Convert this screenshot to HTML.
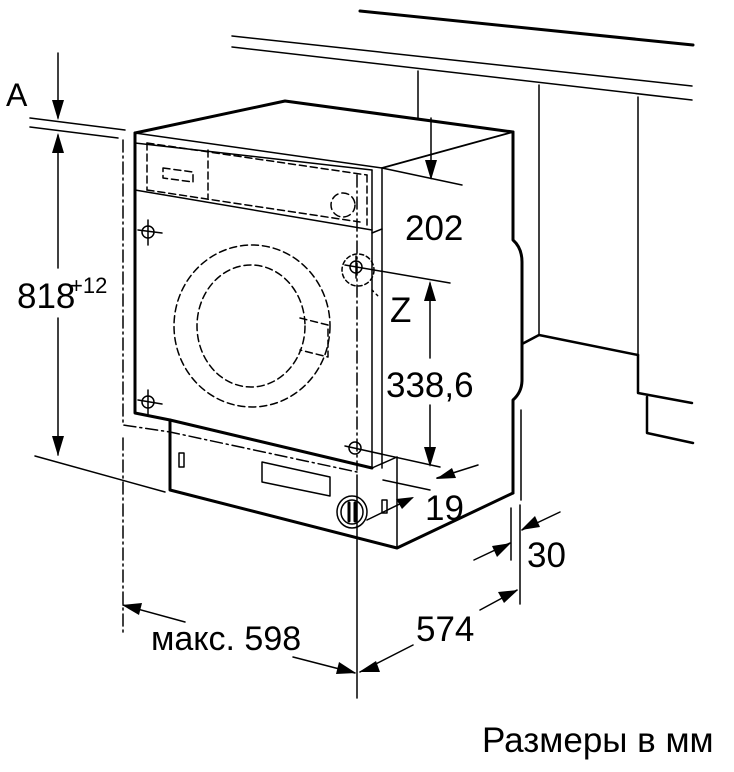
<!DOCTYPE html>
<html><head><meta charset="utf-8"><style>
html,body{margin:0;padding:0;background:#fff;}
svg{display:block;}
text{font-family:"Liberation Sans",sans-serif;fill:#000;}
</style></head><body>
<svg width="734" height="772" viewBox="0 0 734 772" xmlns="http://www.w3.org/2000/svg">
<g stroke="#000" fill="none" stroke-linecap="round" stroke-linejoin="round">
<line x1="360" y1="11" x2="693" y2="45" stroke-width="3"/>
<line x1="232" y1="36" x2="692" y2="86" stroke-width="1.5"/>
<line x1="232" y1="47" x2="692" y2="100" stroke-width="1.5"/>
<line x1="418" y1="71" x2="418" y2="118" stroke-width="1.5"/>
<line x1="539" y1="85" x2="539" y2="335" stroke-width="1.5"/>
<polyline points="522,344 539,335 638,355" stroke-width="2.5"/>
<line x1="638" y1="97" x2="638" y2="355" stroke-width="1.5"/>
<polyline points="638,355 638,393 692,403" stroke-width="2.5"/>
<polyline points="647,397 647,433 693,443" stroke-width="2.5"/>
<polyline points="135,133 285,101 513,132" stroke-width="3"/>
<line x1="513" y1="132" x2="382" y2="168" stroke-width="1.8"/>
<line x1="135" y1="143" x2="372" y2="170" stroke-width="1.5"/>
<line x1="135" y1="133" x2="382" y2="168" stroke-width="1.5"/>
<path d="M513,132 L513,240 Q522,248 522,262 L522,380 Q522,392 513,400 L513,493" stroke-width="3"/>
<line x1="521" y1="410" x2="521" y2="500" stroke-width="1.5"/>
<polyline points="135,133 135,413 170,420" stroke-width="3"/>
<line x1="135" y1="190" x2="372" y2="230" stroke-width="1.5"/>
<line x1="372" y1="170" x2="372" y2="468" stroke-width="1.5"/>
<line x1="382" y1="168" x2="382" y2="468" stroke-width="1.5"/>
<line x1="372" y1="233" x2="382" y2="229" stroke-width="1.5"/>
<line x1="170" y1="420" x2="372" y2="468" stroke-width="3"/>
<polyline points="372,468 397,457" stroke-width="1.5"/>
<polyline points="170,420 170,490 397,548 513,493" stroke-width="3"/>
<line x1="397" y1="457" x2="397" y2="548" stroke-width="1.5"/>
<g stroke-dasharray="7,4" stroke-width="1.5">
<line x1="147" y1="143" x2="367" y2="175"/>
<line x1="147" y1="143" x2="147" y2="190"/>
<line x1="147" y1="190" x2="360" y2="222"/>
<line x1="208" y1="150" x2="208" y2="198"/>
<line x1="367" y1="175" x2="367" y2="225"/>
<polygon points="163,168 193,172 193,182 163,178"/>
<circle cx="343" cy="205" r="12"/>
<ellipse cx="252" cy="326" rx="78" ry="81"/>
<ellipse cx="251" cy="326" rx="54" ry="61"/>
<polyline points="300,318 328,325 328,357 300,350"/>
</g>
<circle cx="358" cy="270" r="16" stroke-width="1.5" stroke-dasharray="4,3"/>
<g stroke-dasharray="12,4,2,4" stroke-width="1.5">
<polyline points="123,140 123,425 170,432 357,472"/>
<line x1="357" y1="175" x2="357" y2="470"/>
<line x1="123" y1="438" x2="123" y2="636"/>
</g>
<g stroke-width="1.5">
<circle cx="148" cy="232" r="6"/><line x1="138" y1="230" x2="162" y2="233"/><line x1="148" y1="220" x2="148" y2="245"/>
<circle cx="148" cy="402" r="6"/><line x1="138" y1="400" x2="162" y2="404"/><line x1="148" y1="390" x2="148" y2="415"/>
<circle cx="356" cy="267" r="6"/><line x1="345" y1="265" x2="450" y2="283"/><line x1="356" y1="256" x2="356" y2="278"/>
<circle cx="355" cy="448" r="6"/><line x1="345" y1="446" x2="440" y2="467"/>
</g>
<rect x="179" y="453" width="5" height="14" stroke-width="1.5"/>
<polygon points="262,462 330,477 330,496 262,482" stroke-width="1.5"/>
<ellipse cx="352" cy="512" rx="15" ry="16" stroke-width="1.5"/>
<ellipse cx="352" cy="512" rx="11" ry="12" stroke-width="1.5"/>
<line x1="349" y1="503" x2="349" y2="521" stroke-width="3"/>
<line x1="355" y1="503" x2="355" y2="521" stroke-width="3"/>
<rect x="382" y="500" width="5" height="13" stroke-width="1.5"/>
<g stroke-width="1.5">
<line x1="30" y1="118" x2="125" y2="130"/>
<line x1="30" y1="127" x2="118" y2="138"/>
<line x1="58" y1="53" x2="58" y2="118"/>
<line x1="58" y1="135" x2="58" y2="268"/>
<line x1="58" y1="318" x2="58" y2="455"/>
<line x1="35" y1="456" x2="165" y2="492"/>
<line x1="382" y1="168" x2="462" y2="185"/>
<line x1="431" y1="118" x2="431" y2="178"/>
<line x1="430" y1="283" x2="430" y2="358"/>
<line x1="430" y1="405" x2="430" y2="465"/>
<line x1="383" y1="480" x2="430" y2="490"/>
<line x1="478" y1="465" x2="437" y2="478"/>
<line x1="367" y1="520" x2="412" y2="498"/>
<line x1="357" y1="475" x2="357" y2="698"/>
<line x1="511" y1="508" x2="511" y2="560"/>
<line x1="520" y1="505" x2="520" y2="604"/>
<line x1="474" y1="560" x2="510" y2="543"/>
<line x1="560" y1="512" x2="522" y2="530"/>
<line x1="185" y1="622" x2="123" y2="605"/>
<line x1="293" y1="657" x2="355" y2="673"/>
<line x1="413" y1="645" x2="360" y2="672"/>
<line x1="480" y1="610" x2="517" y2="590"/>
<line x1="372" y1="290" x2="380" y2="298" stroke-dasharray="2,4"/>
</g>
</g>
<g fill="#000">
<polygon points="58,120 52,100 64,100"/>
<polygon points="58,133 52,153 64,153"/>
<polygon points="58,456 52,436 64,436"/>
<polygon points="431,180 425,160 437,160"/>
<polygon points="430,281 424,301 436,301"/>
<polygon points="430,467 424,447 436,447"/>
<polygon points="436,479 452,468 456,478"/>
<polygon points="414,497 396,499 402,509"/>
<polygon points="511,543 492,546 497,557"/>
<polygon points="521,530 540,527 535,516"/>
<polygon points="122,605 142,603 139,615"/>
<polygon points="356,673 336,674 339,662"/>
<polygon points="359,672 376,661 380,672"/>
<polygon points="518,590 498,592 504,603"/>
</g>
<text x="6" y="106" font-size="32">A</text>
<text x="17" y="308" font-size="35">818</text>
<text x="70" y="293" font-size="22">+12</text>
<text x="405" y="240" font-size="35">202</text>
<text x="390" y="322" font-size="35">Z</text>
<text x="386" y="397" font-size="35">338,6</text>
<text x="425" y="520" font-size="35">19</text>
<text x="527" y="567" font-size="35">30</text>
<text x="416" y="641" font-size="35">574</text>
<text x="151" y="650" font-size="34">макс. 598</text>
<text x="482" y="752" font-size="35">Размеры в мм</text>
</svg>
</body></html>
